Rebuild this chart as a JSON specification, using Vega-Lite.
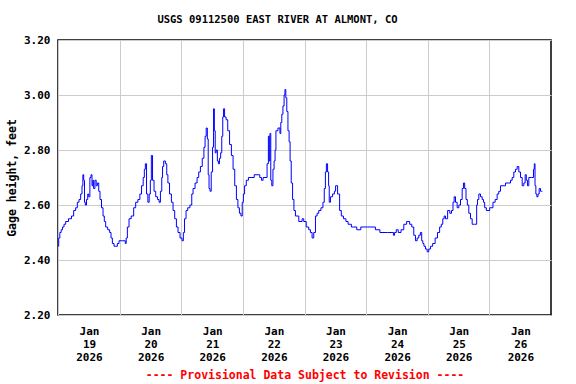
{
  "$schema": "https://vega.github.io/schema/vega-lite/v6.json",
  "width": 493,
  "height": 275,
  "autosize": "none",
  "padding": {"left": 58, "top": 40, "right": 25, "bottom": 69},
  "background": "white",
  "title": {
    "text": "USGS 09112500 EAST RIVER AT ALMONT, CO",
    "font": "DejaVu Sans Mono",
    "fontSize": 10.5,
    "fontWeight": "bold",
    "color": "black",
    "anchor": "middle",
    "dx": -27,
    "offset": 9
  },
  "config": {
    "view": {"stroke": "black", "strokeWidth": 1.5},
    "axis": {
      "labelFont": "DejaVu Sans Mono",
      "labelFontWeight": "bold",
      "labelFontSize": 11,
      "labelColor": "black",
      "titleFont": "DejaVu Sans Mono",
      "titleFontWeight": "bold",
      "titleFontSize": 11.5,
      "titleColor": "black",
      "gridColor": "#cccccc",
      "gridWidth": 1,
      "gridOpacity": 1,
      "ticks": false,
      "domain": false
    }
  },
  "data": {
    "values": [
      {"t": "2026-01-19T00:05", "v": 2.45},
      {"t": "2026-01-19T00:28", "v": 2.48},
      {"t": "2026-01-19T00:58", "v": 2.50},
      {"t": "2026-01-19T01:29", "v": 2.51},
      {"t": "2026-01-19T02:02", "v": 2.52},
      {"t": "2026-01-19T02:39", "v": 2.53},
      {"t": "2026-01-19T03:19", "v": 2.54},
      {"t": "2026-01-19T04:52", "v": 2.55},
      {"t": "2026-01-19T05:39", "v": 2.56},
      {"t": "2026-01-19T06:33", "v": 2.58},
      {"t": "2026-01-19T07:12", "v": 2.59},
      {"t": "2026-01-19T07:52", "v": 2.61},
      {"t": "2026-01-19T08:30", "v": 2.62},
      {"t": "2026-01-19T09:09", "v": 2.64},
      {"t": "2026-01-19T09:33", "v": 2.67},
      {"t": "2026-01-19T09:49", "v": 2.71},
      {"t": "2026-01-19T10:12", "v": 2.69},
      {"t": "2026-01-19T10:26", "v": 2.61},
      {"t": "2026-01-19T10:50", "v": 2.60},
      {"t": "2026-01-19T11:23", "v": 2.62},
      {"t": "2026-01-19T11:46", "v": 2.64},
      {"t": "2026-01-19T12:10", "v": 2.63},
      {"t": "2026-01-19T12:40", "v": 2.70},
      {"t": "2026-01-19T13:03", "v": 2.71},
      {"t": "2026-01-19T13:26", "v": 2.67},
      {"t": "2026-01-19T13:43", "v": 2.69},
      {"t": "2026-01-19T14:02", "v": 2.66},
      {"t": "2026-01-19T14:44", "v": 2.69},
      {"t": "2026-01-19T15:00", "v": 2.67},
      {"t": "2026-01-19T15:40", "v": 2.68},
      {"t": "2026-01-19T16:03", "v": 2.65},
      {"t": "2026-01-19T16:40", "v": 2.62},
      {"t": "2026-01-19T17:13", "v": 2.59},
      {"t": "2026-01-19T17:51", "v": 2.56},
      {"t": "2026-01-19T18:14", "v": 2.54},
      {"t": "2026-01-19T18:54", "v": 2.52},
      {"t": "2026-01-19T19:47", "v": 2.51},
      {"t": "2026-01-19T20:27", "v": 2.50},
      {"t": "2026-01-19T20:51", "v": 2.48},
      {"t": "2026-01-19T21:30", "v": 2.46},
      {"t": "2026-01-19T22:08", "v": 2.45},
      {"t": "2026-01-19T22:47", "v": 2.45},
      {"t": "2026-01-19T23:27", "v": 2.46},
      {"t": "2026-01-20T00:05", "v": 2.47},
      {"t": "2026-01-20T02:02", "v": 2.47},
      {"t": "2026-01-20T02:25", "v": 2.46},
      {"t": "2026-01-20T02:41", "v": 2.48},
      {"t": "2026-01-20T03:21", "v": 2.52},
      {"t": "2026-01-20T03:58", "v": 2.55},
      {"t": "2026-01-20T05:02", "v": 2.56},
      {"t": "2026-01-20T05:55", "v": 2.59},
      {"t": "2026-01-20T06:35", "v": 2.61},
      {"t": "2026-01-20T07:38", "v": 2.62},
      {"t": "2026-01-20T08:09", "v": 2.64},
      {"t": "2026-01-20T08:55", "v": 2.67},
      {"t": "2026-01-20T09:26", "v": 2.70},
      {"t": "2026-01-20T09:49", "v": 2.73},
      {"t": "2026-01-20T10:13", "v": 2.75},
      {"t": "2026-01-20T10:45", "v": 2.64},
      {"t": "2026-01-20T11:15", "v": 2.61},
      {"t": "2026-01-20T11:46", "v": 2.64},
      {"t": "2026-01-20T12:09", "v": 2.69},
      {"t": "2026-01-20T12:33", "v": 2.78},
      {"t": "2026-01-20T13:05", "v": 2.69},
      {"t": "2026-01-20T13:43", "v": 2.65},
      {"t": "2026-01-20T14:23", "v": 2.63},
      {"t": "2026-01-20T15:10", "v": 2.62},
      {"t": "2026-01-20T15:33", "v": 2.61},
      {"t": "2026-01-20T16:13", "v": 2.65},
      {"t": "2026-01-20T16:36", "v": 2.70},
      {"t": "2026-01-20T16:50", "v": 2.74},
      {"t": "2026-01-20T17:30", "v": 2.76},
      {"t": "2026-01-20T18:09", "v": 2.75},
      {"t": "2026-01-20T18:33", "v": 2.71},
      {"t": "2026-01-20T19:03", "v": 2.68},
      {"t": "2026-01-20T19:50", "v": 2.64},
      {"t": "2026-01-20T20:30", "v": 2.61},
      {"t": "2026-01-20T21:07", "v": 2.58},
      {"t": "2026-01-20T21:47", "v": 2.55},
      {"t": "2026-01-20T22:26", "v": 2.52},
      {"t": "2026-01-20T23:04", "v": 2.50},
      {"t": "2026-01-21T00:00", "v": 2.48},
      {"t": "2026-01-21T00:37", "v": 2.47},
      {"t": "2026-01-21T01:01", "v": 2.50},
      {"t": "2026-01-21T01:33", "v": 2.55},
      {"t": "2026-01-21T02:11", "v": 2.58},
      {"t": "2026-01-21T02:51", "v": 2.59},
      {"t": "2026-01-21T03:54", "v": 2.60},
      {"t": "2026-01-21T04:17", "v": 2.64},
      {"t": "2026-01-21T04:54", "v": 2.66},
      {"t": "2026-01-21T05:51", "v": 2.68},
      {"t": "2026-01-21T06:28", "v": 2.70},
      {"t": "2026-01-21T07:08", "v": 2.72},
      {"t": "2026-01-21T07:47", "v": 2.74},
      {"t": "2026-01-21T08:34", "v": 2.77},
      {"t": "2026-01-21T09:05", "v": 2.81},
      {"t": "2026-01-21T09:28", "v": 2.85},
      {"t": "2026-01-21T09:58", "v": 2.88},
      {"t": "2026-01-21T10:22", "v": 2.84},
      {"t": "2026-01-21T10:38", "v": 2.71},
      {"t": "2026-01-21T11:01", "v": 2.66},
      {"t": "2026-01-21T11:25", "v": 2.65},
      {"t": "2026-01-21T11:55", "v": 2.72},
      {"t": "2026-01-21T12:28", "v": 2.81},
      {"t": "2026-01-21T12:42", "v": 2.95},
      {"t": "2026-01-21T13:05", "v": 2.87},
      {"t": "2026-01-21T13:22", "v": 2.79},
      {"t": "2026-01-21T13:52", "v": 2.80},
      {"t": "2026-01-21T14:16", "v": 2.76},
      {"t": "2026-01-21T14:39", "v": 2.75},
      {"t": "2026-01-21T15:07", "v": 2.77},
      {"t": "2026-01-21T15:35", "v": 2.79},
      {"t": "2026-01-21T15:58", "v": 2.85},
      {"t": "2026-01-21T16:22", "v": 2.92},
      {"t": "2026-01-21T16:36", "v": 2.95},
      {"t": "2026-01-21T17:09", "v": 2.92},
      {"t": "2026-01-21T17:46", "v": 2.91},
      {"t": "2026-01-21T18:26", "v": 2.87},
      {"t": "2026-01-21T19:12", "v": 2.82},
      {"t": "2026-01-21T19:52", "v": 2.78},
      {"t": "2026-01-21T20:30", "v": 2.73},
      {"t": "2026-01-21T21:09", "v": 2.67},
      {"t": "2026-01-21T21:49", "v": 2.62},
      {"t": "2026-01-21T22:19", "v": 2.59},
      {"t": "2026-01-21T22:59", "v": 2.57},
      {"t": "2026-01-21T23:30", "v": 2.56},
      {"t": "2026-01-22T00:00", "v": 2.61},
      {"t": "2026-01-22T00:23", "v": 2.64},
      {"t": "2026-01-22T00:56", "v": 2.67},
      {"t": "2026-01-22T01:43", "v": 2.69},
      {"t": "2026-01-22T02:37", "v": 2.70},
      {"t": "2026-01-22T06:14", "v": 2.71},
      {"t": "2026-01-22T06:54", "v": 2.70},
      {"t": "2026-01-22T07:34", "v": 2.69},
      {"t": "2026-01-22T08:11", "v": 2.70},
      {"t": "2026-01-22T09:07", "v": 2.70},
      {"t": "2026-01-22T09:44", "v": 2.75},
      {"t": "2026-01-22T10:08", "v": 2.85},
      {"t": "2026-01-22T10:24", "v": 2.76},
      {"t": "2026-01-22T10:40", "v": 2.86},
      {"t": "2026-01-22T11:04", "v": 2.69},
      {"t": "2026-01-22T11:27", "v": 2.67},
      {"t": "2026-01-22T11:58", "v": 2.73},
      {"t": "2026-01-22T12:21", "v": 2.76},
      {"t": "2026-01-22T12:44", "v": 2.80},
      {"t": "2026-01-22T13:01", "v": 2.87},
      {"t": "2026-01-22T14:18", "v": 2.88},
      {"t": "2026-01-22T14:34", "v": 2.86},
      {"t": "2026-01-22T14:58", "v": 2.90},
      {"t": "2026-01-22T15:21", "v": 2.93},
      {"t": "2026-01-22T15:51", "v": 2.96},
      {"t": "2026-01-22T16:15", "v": 3.00},
      {"t": "2026-01-22T16:31", "v": 3.02},
      {"t": "2026-01-22T16:55", "v": 2.99},
      {"t": "2026-01-22T17:18", "v": 2.94},
      {"t": "2026-01-22T17:48", "v": 2.87},
      {"t": "2026-01-22T18:12", "v": 2.83},
      {"t": "2026-01-22T18:35", "v": 2.76},
      {"t": "2026-01-22T19:05", "v": 2.68},
      {"t": "2026-01-22T19:38", "v": 2.62},
      {"t": "2026-01-22T20:08", "v": 2.58},
      {"t": "2026-01-22T20:48", "v": 2.56},
      {"t": "2026-01-22T22:45", "v": 2.54},
      {"t": "2026-01-22T23:22", "v": 2.55},
      {"t": "2026-01-23T00:02", "v": 2.54},
      {"t": "2026-01-23T01:19", "v": 2.52},
      {"t": "2026-01-23T01:59", "v": 2.51},
      {"t": "2026-01-23T02:39", "v": 2.50},
      {"t": "2026-01-23T03:16", "v": 2.48},
      {"t": "2026-01-23T03:56", "v": 2.50},
      {"t": "2026-01-23T04:36", "v": 2.56},
      {"t": "2026-01-23T05:13", "v": 2.57},
      {"t": "2026-01-23T05:53", "v": 2.58},
      {"t": "2026-01-23T06:56", "v": 2.59},
      {"t": "2026-01-23T07:26", "v": 2.61},
      {"t": "2026-01-23T07:57", "v": 2.66},
      {"t": "2026-01-23T08:20", "v": 2.72},
      {"t": "2026-01-23T08:43", "v": 2.75},
      {"t": "2026-01-23T09:16", "v": 2.72},
      {"t": "2026-01-23T09:30", "v": 2.67},
      {"t": "2026-01-23T09:46", "v": 2.61},
      {"t": "2026-01-23T10:26", "v": 2.63},
      {"t": "2026-01-23T11:27", "v": 2.64},
      {"t": "2026-01-23T11:50", "v": 2.65},
      {"t": "2026-01-23T12:23", "v": 2.67},
      {"t": "2026-01-23T13:24", "v": 2.64},
      {"t": "2026-01-23T13:57", "v": 2.58},
      {"t": "2026-01-23T14:43", "v": 2.56},
      {"t": "2026-01-23T15:37", "v": 2.55},
      {"t": "2026-01-23T16:40", "v": 2.54},
      {"t": "2026-01-23T17:18", "v": 2.53},
      {"t": "2026-01-23T19:14", "v": 2.52},
      {"t": "2026-01-23T21:28", "v": 2.51},
      {"t": "2026-01-23T22:22", "v": 2.52},
      {"t": "2026-01-24T02:39", "v": 2.52},
      {"t": "2026-01-24T04:35", "v": 2.51},
      {"t": "2026-01-24T06:09", "v": 2.50},
      {"t": "2026-01-24T10:26", "v": 2.50},
      {"t": "2026-01-24T10:50", "v": 2.49},
      {"t": "2026-01-24T11:18", "v": 2.50},
      {"t": "2026-01-24T12:09", "v": 2.51},
      {"t": "2026-01-24T12:51", "v": 2.50},
      {"t": "2026-01-24T14:20", "v": 2.51},
      {"t": "2026-01-24T15:00", "v": 2.53},
      {"t": "2026-01-24T16:34", "v": 2.54},
      {"t": "2026-01-24T17:20", "v": 2.53},
      {"t": "2026-01-24T18:14", "v": 2.52},
      {"t": "2026-01-24T18:53", "v": 2.49},
      {"t": "2026-01-24T19:33", "v": 2.47},
      {"t": "2026-01-24T20:11", "v": 2.48},
      {"t": "2026-01-24T20:50", "v": 2.49},
      {"t": "2026-01-24T21:25", "v": 2.50},
      {"t": "2026-01-24T21:53", "v": 2.47},
      {"t": "2026-01-24T22:17", "v": 2.46},
      {"t": "2026-01-24T22:47", "v": 2.45},
      {"t": "2026-01-24T23:27", "v": 2.44},
      {"t": "2026-01-25T00:04", "v": 2.43},
      {"t": "2026-01-25T00:44", "v": 2.44},
      {"t": "2026-01-25T01:24", "v": 2.45},
      {"t": "2026-01-25T02:25", "v": 2.46},
      {"t": "2026-01-25T03:21", "v": 2.48},
      {"t": "2026-01-25T04:14", "v": 2.50},
      {"t": "2026-01-25T05:01", "v": 2.52},
      {"t": "2026-01-25T05:32", "v": 2.53},
      {"t": "2026-01-25T06:11", "v": 2.55},
      {"t": "2026-01-25T06:35", "v": 2.56},
      {"t": "2026-01-25T07:14", "v": 2.55},
      {"t": "2026-01-25T08:15", "v": 2.58},
      {"t": "2026-01-25T08:55", "v": 2.57},
      {"t": "2026-01-25T09:35", "v": 2.58},
      {"t": "2026-01-25T10:05", "v": 2.61},
      {"t": "2026-01-25T10:29", "v": 2.63},
      {"t": "2026-01-25T11:08", "v": 2.61},
      {"t": "2026-01-25T11:46", "v": 2.59},
      {"t": "2026-01-25T12:26", "v": 2.60},
      {"t": "2026-01-25T13:05", "v": 2.62},
      {"t": "2026-01-25T13:43", "v": 2.66},
      {"t": "2026-01-25T14:06", "v": 2.68},
      {"t": "2026-01-25T14:39", "v": 2.66},
      {"t": "2026-01-25T15:09", "v": 2.62},
      {"t": "2026-01-25T15:40", "v": 2.60},
      {"t": "2026-01-25T16:19", "v": 2.57},
      {"t": "2026-01-25T16:59", "v": 2.55},
      {"t": "2026-01-25T17:37", "v": 2.53},
      {"t": "2026-01-25T18:56", "v": 2.53},
      {"t": "2026-01-25T19:10", "v": 2.60},
      {"t": "2026-01-25T19:34", "v": 2.62},
      {"t": "2026-01-25T20:13", "v": 2.64},
      {"t": "2026-01-25T20:53", "v": 2.63},
      {"t": "2026-01-25T21:31", "v": 2.62},
      {"t": "2026-01-25T21:54", "v": 2.61},
      {"t": "2026-01-25T22:26", "v": 2.59},
      {"t": "2026-01-25T23:13", "v": 2.58},
      {"t": "2026-01-26T01:00", "v": 2.59},
      {"t": "2026-01-26T01:47", "v": 2.61},
      {"t": "2026-01-26T02:43", "v": 2.62},
      {"t": "2026-01-26T03:20", "v": 2.64},
      {"t": "2026-01-26T04:00", "v": 2.65},
      {"t": "2026-01-26T04:40", "v": 2.67},
      {"t": "2026-01-26T07:54", "v": 2.68},
      {"t": "2026-01-26T08:34", "v": 2.69},
      {"t": "2026-01-26T09:11", "v": 2.70},
      {"t": "2026-01-26T09:51", "v": 2.72},
      {"t": "2026-01-26T10:31", "v": 2.73},
      {"t": "2026-01-26T11:08", "v": 2.74},
      {"t": "2026-01-26T11:48", "v": 2.72},
      {"t": "2026-01-26T12:28", "v": 2.70},
      {"t": "2026-01-26T13:05", "v": 2.67},
      {"t": "2026-01-26T13:44", "v": 2.68},
      {"t": "2026-01-26T14:08", "v": 2.71},
      {"t": "2026-01-26T14:38", "v": 2.69},
      {"t": "2026-01-26T15:02", "v": 2.67},
      {"t": "2026-01-26T15:41", "v": 2.70},
      {"t": "2026-01-26T16:59", "v": 2.70},
      {"t": "2026-01-26T17:22", "v": 2.73},
      {"t": "2026-01-26T17:38", "v": 2.75},
      {"t": "2026-01-26T17:55", "v": 2.67},
      {"t": "2026-01-26T18:18", "v": 2.64},
      {"t": "2026-01-26T18:41", "v": 2.63},
      {"t": "2026-01-26T19:12", "v": 2.64},
      {"t": "2026-01-26T19:35", "v": 2.66},
      {"t": "2026-01-26T20:15", "v": 2.65},
      {"t": "2026-01-26T20:38", "v": 2.65}
    ]
  },
  "mark": {"type": "line", "color": "#0000ff", "strokeWidth": 1, "interpolate": "step"},
  "encoding": {
    "x": {
      "field": "t",
      "type": "temporal",
      "scale": {"domain": [{"year": 2026, "month": 1, "date": 19}, {"year": 2026, "month": 1, "date": 27}]},
      "axis": {
        "values": [
          {"year": 2026, "month": 1, "date": 19},
          {"year": 2026, "month": 1, "date": 20},
          {"year": 2026, "month": 1, "date": 21},
          {"year": 2026, "month": 1, "date": 22},
          {"year": 2026, "month": 1, "date": 23},
          {"year": 2026, "month": 1, "date": 24},
          {"year": 2026, "month": 1, "date": 25},
          {"year": 2026, "month": 1, "date": 26}
        ],
        "labelExpr": "[timeFormat(datum.value, '%b'), timeFormat(datum.value, '%d'), timeFormat(datum.value, '%Y')]",
        "labelOffset": 31,
        "labelPadding": 10,
        "labelAlign": "center",
        "labelBaseline": "top",
        "labelLineHeight": 13,
        "labelFlush": false,
        "labelOverlap": false,
        "grid": true,
        "title": "---- Provisional Data Subject to Revision ----",
        "titleColor": "#ff0000",
        "titlePadding": 7
      }
    },
    "y": {
      "field": "v",
      "type": "quantitative",
      "scale": {"domain": [2.2, 3.2], "nice": false, "zero": false},
      "axis": {
        "values": [2.2, 2.4, 2.6, 2.8, 3.0, 3.2],
        "format": ".2f",
        "labelPadding": 8,
        "grid": true,
        "title": "Gage height, feet",
        "titlePadding": 6
      }
    }
  }
}
